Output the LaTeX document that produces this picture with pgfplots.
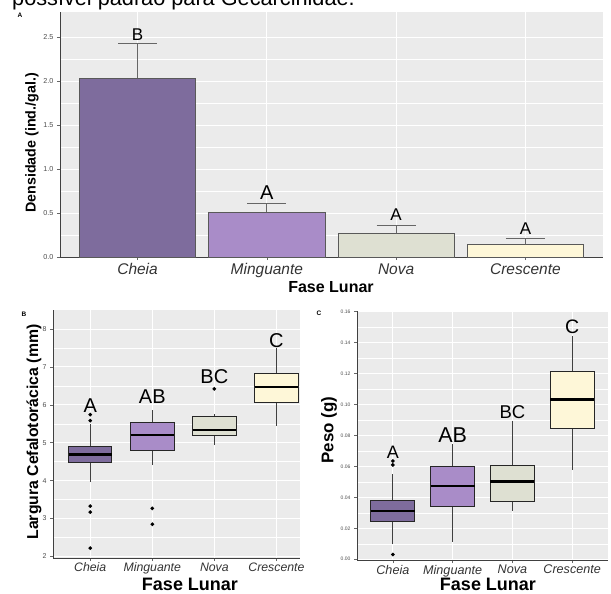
\documentclass[border=0pt]{standalone}
\usepackage{fontspec}
\setmainfont{Liberation Sans}
\usepackage{pgfplots}
\pgfplotsset{compat=1.18}
\usepgfplotslibrary{statistics}

\definecolor{ggbg}{HTML}{EBEBEB}
\definecolor{cheia}{HTML}{7E6C9D}
\definecolor{ming}{HTML}{A98CC8}
\definecolor{nova}{HTML}{DEE0D2}
\definecolor{cresc}{HTML}{FEF7D8}
\definecolor{tickgray}{HTML}{4D4D4D}
\definecolor{labgray}{HTML}{333333}

\newcommand{\fs}[1]{\fontsize{#1}{#1}\selectfont}

\pgfplotsset{
 gg/.style={
  scale only axis,
  anchor=south west,
  axis background/.style={fill=ggbg},
  axis lines*=left,
  axis line style={draw=black!75, line width=0.9pt},
  xmajorgrids, ymajorgrids, yminorgrids,
  major grid style={white, line width=0.8pt},
  minor grid style={white, line width=0.4pt},
  minor y tick num=1,
  tick align=outside,
  major tick length=3pt,
  minor tick length=0pt,
  tick style={draw=black!60, line width=0.6pt},
  xtick={0,1,2,3},
  xticklabels={Cheia,Minguante,Nova,Crescente},
  /pgf/number format/assume math mode=true,
  xmin=-0.6,
  clip=false,
  boxplot/draw direction=y,
  yticklabel style={text=tickgray},
  xticklabel style={text=labgray, font=\itshape},
 },
 bx/.style={
  boxplot/draw direction=y,
  fill=#1, draw=black!85, line width=1pt,
  mark=*, mark size=1.3pt, mark options={fill=black, draw=black},
  boxplot/every median/.style={line width=2.2pt, draw=black},
  boxplot/every whisker/.style={draw=black!75, line width=1pt},
 },
 eb/.style={
  ybar, bar width=0.9, bar shift=0pt, fill=#1, draw=black!65, line width=0.6pt,
  error bars/.cd, y dir=plus, y explicit,
  error bar style={draw=black!60, line width=0.8pt},
  error mark options={rotate=90, draw=black!60, line width=0.8pt, mark size=19.5pt},
 },
}

\begin{document}
\begin{tikzpicture}
\useasboundingbox (0pt,0pt) rectangle (611pt,-594pt);

% cut-off text at top
\node[anchor=base west, inner sep=0pt, font=\fs{21.7}] at (12pt,-6pt) {possível padrão para Gecarcinidae.};

% ---------------- Panel A ----------------
\node[anchor=center, font=\bfseries\fs{6.5}] at (20pt,-15pt) {A};
\begin{axis}[gg, at={(60pt,-257pt)}, width=543pt, height=245pt,
  xmax=3.6, ymin=0, ymax=2.79,
  ytick={0,0.5,1,1.5,2,2.5},
  yticklabel style={font=\fs{7.2}, /pgf/number format/.cd, fixed, fixed zerofill, precision=1},
  xticklabel style={font=\itshape\fs{15.5}},
]
\addplot[eb=cheia] coordinates {(0,2.04) +- (0,0.39)};
\addplot[eb=ming] coordinates {(1,0.51) +- (0,0.10)};
\addplot[eb=nova] coordinates {(2,0.27) +- (0,0.09)};
\addplot[eb=cresc] coordinates {(3,0.145) +- (0,0.065)};
\node[anchor=base, font=\fs{17}] at (axis cs:0,2.47) {B};
\node[anchor=base, font=\fs{20}] at (axis cs:1,0.66) {A};
\node[anchor=base, font=\fs{17}] at (axis cs:2,0.41) {A};
\node[anchor=base, font=\fs{17}] at (axis cs:3,0.26) {A};
\end{axis}
\node[font=\bfseries\fs{16}] at (331pt,-287pt) {Fase Lunar};
\node[rotate=90, font=\bfseries\fs{14.3}] at (32pt,-143pt) {Densidade (ind./gal.)};

% ---------------- Panel B ----------------
\node[anchor=center, font=\bfseries\fs{6.5}] at (24pt,-314pt) {B};
\begin{axis}[gg, at={(53pt,-558pt)}, width=247pt, height=248pt,
  xmax=3.38, ymin=1.96, ymax=8.5,
  ytick={2,3,4,5,6,7,8},
  yticklabel style={font=\fs{7}},
  xticklabel style={font=\itshape\fs{12.3}, yshift=1.5pt},
]
\addplot[bx=cheia, boxplot prepared={draw position=0, lower whisker=3.96, lower quartile=4.48,
  median=4.69, upper quartile=4.89, upper whisker=5.50, box extend=0.7, whisker extend=0}]
  coordinates {(0,5.58) (0,5.74) (0,3.33) (0,3.17) (0,2.22)};
\addplot[bx=ming, boxplot prepared={draw position=1, lower whisker=4.41, lower quartile=4.80,
  median=5.20, upper quartile=5.53, upper whisker=5.85, box extend=0.7, whisker extend=0}]
  coordinates {(1,3.27) (1,2.85)};
\addplot[bx=nova, boxplot prepared={draw position=2, lower whisker=4.93, lower quartile=5.18,
  median=5.33, upper quartile=5.68, upper whisker=5.75, box extend=0.7, whisker extend=0}]
  coordinates {(2,6.42)};
\addplot[bx=cresc, boxplot prepared={draw position=3, lower whisker=5.44, lower quartile=6.07,
  median=6.46, upper quartile=6.83, upper whisker=7.50, box extend=0.7, whisker extend=0}]
  coordinates {};
\node[anchor=base, font=\fs{20}] at (axis cs:0,5.81) {A};
\node[anchor=base, font=\fs{20}] at (axis cs:1,6.04) {AB};
\node[anchor=base, font=\fs{20}] at (axis cs:2,6.55) {BC};
\node[anchor=base, font=\fs{20}] at (axis cs:3,7.52) {C};
\end{axis}
\node[anchor=base, font=\bfseries\fs{18}] at (190pt,-590pt) {Fase Lunar};
\node[rotate=90, font=\bfseries\fs{15.8}] at (34pt,-432pt) {Largura Cefalotorácica (mm)};

% ---------------- Panel C ----------------
\node[anchor=center, font=\bfseries\fs{6.5}] at (319pt,-313pt) {C};
\begin{axis}[gg, at={(357pt,-560pt)}, width=251pt, height=249pt,
  xmax=3.6, ymin=-0.0005, ymax=0.1605,
  ytick={0,0.02,0.04,0.06,0.08,0.10,0.12,0.14,0.16},
  yticklabel style={font=\fs{5}, /pgf/number format/.cd, fixed, fixed zerofill, precision=2},
  xticklabel style={font=\itshape\fs{12.6}, yshift=1.5pt},
]
\addplot[bx=cheia, boxplot prepared={draw position=0, lower whisker=0.0097, lower quartile=0.0243,
  median=0.031, upper quartile=0.0381, upper whisker=0.0548, box extend=0.74, whisker extend=0}]
  coordinates {(0,0.061) (0,0.0635) (0,0.003)};
\addplot[bx=ming, boxplot prepared={draw position=1, lower whisker=0.0112, lower quartile=0.0344,
  median=0.0473, upper quartile=0.0602, upper whisker=0.0742, box extend=0.74, whisker extend=0}]
  coordinates {};
\addplot[bx=nova, boxplot prepared={draw position=2, lower whisker=0.031, lower quartile=0.0372,
  median=0.0503, upper quartile=0.0607, upper whisker=0.0897, box extend=0.74, whisker extend=0}]
  coordinates {};
\addplot[bx=cresc, boxplot prepared={draw position=3, lower whisker=0.058, lower quartile=0.0843,
  median=0.1033, upper quartile=0.1215, upper whisker=0.1445, box extend=0.74, whisker extend=0}]
  coordinates {};
\node[anchor=base, font=\fs{18}] at (axis cs:0,0.065) {A};
\node[anchor=base, font=\fs{21.5}] at (axis cs:1,0.0753) {AB};
\node[anchor=base, font=\fs{18.5}] at (axis cs:2,0.091) {BC};
\node[anchor=base, font=\fs{19.5}] at (axis cs:3,0.1462) {C};
\end{axis}
\node[anchor=base, font=\bfseries\fs{18}] at (488pt,-590pt) {Fase Lunar};
\node[rotate=90, font=\bfseries\fs{16.9}] at (329pt,-430pt) {Peso (g)};

\end{tikzpicture}
\end{document}
